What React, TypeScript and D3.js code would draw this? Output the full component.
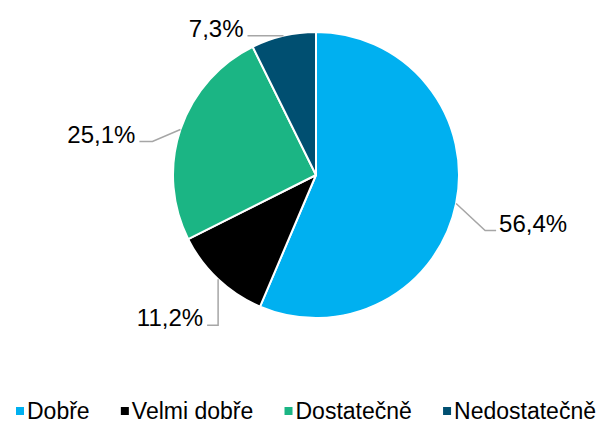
import { useEffect, useRef } from "react";
import * as d3 from "d3";

const categories = ["Dobře", "Velmi dobře", "Dostatečně", "Nedostatečně"];
const values = [56.4, 11.2, 25.1, 7.3];
const labels = ["56,4%", "11,2%", "25,1%", "7,3%"];
const colors = ["#00B0F0", "#000000", "#1BB584", "#004F71"];

// leader line elbows, relative to the point on the arc edge
const leaders = [
  [[29, 27], [40, 27]],
  [[0, 46], [-11, 46]],
  [[-28, 12], [-41, 12]],
  [[-36, 0], [-36, 0]],
];

export default function App() {
  const ref = useRef<SVGSVGElement>(null);
  const width = 600;
  const height = 425;
  const cx = 316;
  const cy = 175;
  const r = 143;

  const pie = d3.pie<number>().sort(null).value((d) => d);
  const arcs = pie(values);
  const arc = d3.arc<d3.PieArcDatum<number>>().innerRadius(0).outerRadius(r);

  useEffect(() => {
    const svg = d3.select(ref.current);
    const legend = svg.select("#legend");
    legend.selectAll("*").remove();
    const items = categories.map((c, i) => {
      const g = legend.append("g");
      g.append("rect").attr("width", 8).attr("height", 8).attr("y", -12).attr("fill", colors[i]);
      const t = g.append("text").attr("x", 11).text(c);
      const w = (t.node() as SVGTextElement).getComputedTextLength();
      return { g, w: 11 + w };
    });
    // legend spans from x=16 to x=596
    const left = 16;
    const right = 596;
    const gap = (right - left - d3.sum(items, (d) => d.w)) / (items.length - 1);
    let x = left;
    items.forEach((it) => {
      it.g.attr("transform", `translate(${x},0)`);
      x += it.w + gap;
    });
  });

  return (
    <svg
      ref={ref}
      width={width}
      height={height}
      style={{ position: "absolute", left: 0, top: 0 }}
      fontFamily="'Liberation Sans', Arial, sans-serif"
    >
      <rect width={width} height={height} fill="#fff" />
      <g transform={`translate(${cx},${cy})`}>
        {arcs.map((a, i) => (
          <path key={i} d={arc(a) || ""} fill={colors[i]} stroke="#fff" strokeWidth={2} strokeLinejoin="round" />
        ))}
        {arcs.map((a, i) => {
          const mid = (a.startAngle + a.endAngle) / 2;
          const px = Math.sin(mid) * r;
          const py = -Math.cos(mid) * r;
          const [e1, e2] = leaders[i];
          const pts: [number, number][] = [
            [px, py],
            [px + e1[0], py + e1[1]],
            [px + e2[0], py + e2[1]],
          ];
          const endX = pts[2][0];
          const endY = pts[2][1];
          const right = endX > px;
          return (
            <g key={i}>
              <path d={d3.line()(pts) || ""} fill="none" stroke="#A6A6A6" strokeWidth={1.5} />
              <text
                x={right ? endX + 3 : endX - 4}
                y={endY + 1}
                fontSize={24}
                textAnchor={right ? "start" : "end"}
                fill="#000"
              >
                {labels[i]}
              </text>
            </g>
          );
        })}
      </g>
      <g id="legend" transform="translate(0,419)" fontSize={23} fill="#000"></g>
    </svg>
  );
}
